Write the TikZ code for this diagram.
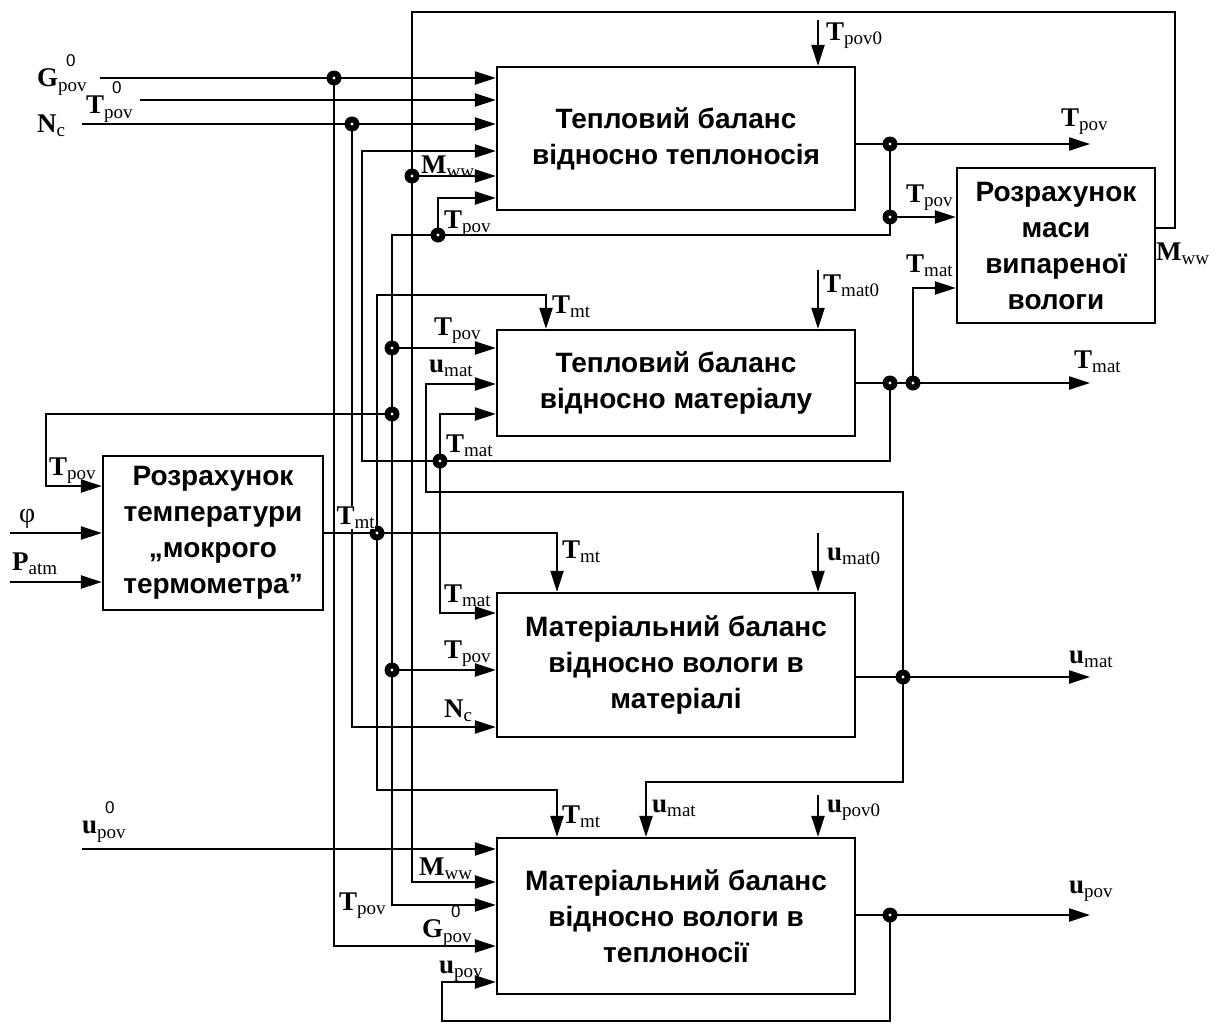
\documentclass[tikz,border=0pt]{standalone}
\usepackage{fontspec}
\setmainfont{Liberation Serif}
\newfontfamily\boxfont{Liberation Sans}
\usetikzlibrary{arrows.meta,calc}
\newcommand{\Lb}[2]{{\fontsize{27}{27}\selectfont\bfseries #1}\raisebox{-4pt}{\fontsize{19}{19}\selectfont #2}}
\newcommand{\Lz}[2]{{\fontsize{27}{27}\selectfont\bfseries #1}\makebox[0pt][l]{\hspace{8pt}\raisebox{20pt}{\boxfont\fontsize{17}{17}\selectfont 0}}\raisebox{-5pt}{\fontsize{19}{19}\selectfont #2}}
\tikzset{
  box/.style={draw, line width=2.3pt, inner sep=0pt, align=center,
    font=\boxfont\bfseries\fontsize{28}{36}\selectfont},
  arr/.style={line width=2.3pt, -{Triangle[length=21pt,width=13pt]}},
  lab/.style={inner sep=0pt, anchor=base west},
  dot/.style={circle, fill=black, inner sep=0pt, minimum size=15pt,
    path picture={\fill[white] (path picture bounding box.center) circle (1.6pt);}}
}
\begin{document}
\begin{tikzpicture}[x=1pt,y=-1pt]
\useasboundingbox (0,0) rectangle (1220,1023);
% boxes
\node[box, minimum width=358pt, minimum height=143pt] (b1) at (676,138.5) {Тепловий баланс\\відносно теплоносія};
\node[box, minimum width=198pt, minimum height=155pt] (b2) at (1056,245.5) {Розрахунок\\маси\\випареної\\вологи};
\node[box, minimum width=358pt, minimum height=106pt] (b3) at (676,383) {Тепловий баланс\\відносно матеріалу};
\node[box, minimum width=220pt, minimum height=154pt] (bw) at (213,533) {Розрахунок\\температури\\„мокрого\\термометра”};
\node[box, minimum width=358pt, minimum height=144pt] (b4) at (676,665) {Матеріальний баланс\\відносно вологи в\\матеріалі};
\node[box, minimum width=358pt, minimum height=156pt] (b5) at (676,916) {Матеріальний баланс\\відносно вологи в\\теплоносії};

% coordinates
\coordinate (gS) at (100,78);  \coordinate (gD) at (334,78);  \coordinate (gB) at (334,946);
\coordinate (tS) at (140,100);
\coordinate (nS) at (82,124);  \coordinate (nD) at (352,124); \coordinate (nB) at (352,727);
\coordinate (tmD1) at (890,383); \coordinate (tmD2) at (913,383); \coordinate (tmE) at (1090,383);
\coordinate (tmC1) at (890,461); \coordinate (tmC2) at (362,461); \coordinate (tmC3) at (362,151);
\coordinate (tmD3) at (440,461); \coordinate (tmC4) at (440,414); \coordinate (tmC5) at (440,613);
\coordinate (tmC6) at (913,288);
\coordinate (mC1) at (1175,228); \coordinate (mC2) at (1175,12); \coordinate (mC3) at (412,12); \coordinate (mC4) at (412,882);
\coordinate (mD) at (412,176);
\coordinate (tpD1) at (890,144); \coordinate (tpE) at (1090,144); \coordinate (tpD2) at (890,217);
\coordinate (tpC1) at (890,235); \coordinate (tpC2) at (392,235); \coordinate (tpC3) at (392,905);
\coordinate (tpD3) at (438,235); \coordinate (tpC4) at (438,198);
\coordinate (tpD4) at (392,348); \coordinate (tpD5) at (392,414); \coordinate (tpD6) at (392,670);
\coordinate (tpC5) at (46,414); \coordinate (tpC6) at (46,486);
\coordinate (tD) at (377,533); \coordinate (tC1) at (557,533);
\coordinate (tC2) at (377,295); \coordinate (tC3) at (546,295);
\coordinate (tC4) at (377,790); \coordinate (tC5) at (557,790);
\coordinate (uD) at (903,677); \coordinate (uE) at (1090,677);
\coordinate (uC1) at (903,492); \coordinate (uC2) at (426,492); \coordinate (uC3) at (426,384);
\coordinate (uC4) at (903,782); \coordinate (uC5) at (646,782);
\coordinate (upD) at (890,915); \coordinate (upE) at (1090,915);
\coordinate (upC1) at (890,1021); \coordinate (upC2) at (442,1021); \coordinate (upC3) at (442,982);
\coordinate (upS) at (82,849);
\coordinate (k1) at (818,20); \coordinate (k2) at (818,270); \coordinate (k3) at (818,533); \coordinate (k4) at (818,795);
\coordinate (fS) at (10,533); \coordinate (pS) at (10,582);

% connectors
\draw[arr] (gS) -- (gS -| b1.west);
\draw[arr] (gD) -- (gB) -- (gB -| b5.west);
\draw[arr] (tS) -- (tS -| b1.west);
\draw[arr] (nS) -- (nS -| b1.west);
\draw[arr] (nD) -- (nB) -- (nB -| b4.west);
\draw[arr] (b3.east) -- (tmE);
\draw[arr] (tmD1) -- (tmC1) -- (tmC2) -- (tmC3) -- (tmC3 -| b1.west);
\draw[arr] (tmD3) -- (tmC4) -- (tmC4 -| b3.west);
\draw[arr] (tmD3) -- (tmC5) -- (tmC5 -| b4.west);
\draw[arr] (tmD2) -- (tmC6) -- (tmC6 -| b2.west);
\draw[arr] (mC1 -| b2.east) -- (mC1) -- (mC2) -- (mC3) -- (mC4) -- (mC4 -| b5.west);
\draw[arr] (mD) -- (mD -| b1.west);
\draw[arr] (tpD1 -| b1.east) -- (tpE);
\draw[arr] (tpD1) -- (tpC1) -- (tpC2) -- (tpC3) -- (tpC3 -| b5.west);
\draw[arr] (tpD2) -- (tpD2 -| b2.west);
\draw[arr] (tpD3) -- (tpC4) -- (tpC4 -| b1.west);
\draw[arr] (tpD4) -- (tpD4 -| b3.west);
\draw[arr] (tpD5) -- (tpC5) -- (tpC6) -- (tpC6 -| bw.west);
\draw[arr] (tpD6) -- (tpD6 -| b4.west);
\draw[arr] (bw.east) -- (tC1) -- (tC1 |- b4.north);
\draw[arr] (tD) -- (tC2) -- (tC3) -- (tC3 |- b3.north);
\draw[arr] (tD) -- (tC4) -- (tC5) -- (tC5 |- b5.north);
\draw[arr] (uD -| b4.east) -- (uE);
\draw[arr] (uD) -- (uC1) -- (uC2) -- (uC3) -- (uC3 -| b3.west);
\draw[arr] (uD) -- (uC4) -- (uC5) -- (uC5 |- b5.north);
\draw[arr] (upD -| b5.east) -- (upE);
\draw[arr] (upD) -- (upC1) -- (upC2) -- (upC3) -- (upC3 -| b5.west);
\draw[arr] (upS) -- (upS -| b5.west);
\draw[arr] (k1) -- (k1 |- b1.north);
\draw[arr] (k2) -- (k2 |- b3.north);
\draw[arr] (k3) -- (k3 |- b4.north);
\draw[arr] (k4) -- (k4 |- b5.north);
\draw[arr] (fS) -- (fS -| bw.west);
\draw[arr] (pS) -- (pS -| bw.west);

% dots
\foreach \c in {gD,nD,tmD1,tmD2,tmD3,mD,tpD1,tpD2,tpD3,tpD4,tpD5,tpD6,tD,uD,upD}
  \node[dot] (dot-\c) at (\c) {};

% labels
\node[lab] (lG1) at (37,86) {\Lz{G}{pov}};
\node[lab] (lT1) at (86,113) {\Lz{T}{pov}};
\node[lab] (lN1) at (37,132) {\Lb{N}{c}};
\node[lab] (lM1) at (421,173) {\Lb{M}{ww}};
\node[lab] (lT2) at (444,228) {\Lb{T}{pov}};
\node[lab] (lT0) at (826,40) {\Lb{T}{pov0}};
\node[lab] (lT3) at (1061,126) {\Lb{T}{pov}};
\node[lab] (lT4) at (906,202) {\Lb{T}{pov}};
\node[lab] (lT5) at (906,272) {\Lb{T}{mat}};
\node[lab] (lM2) at (1156,260) {\Lb{M}{ww}};
\node[lab] (lt1) at (552,313) {\Lb{T}{mt}};
\node[lab] (lT6) at (823,292) {\Lb{T}{mat0}};
\node[lab] (lT7) at (434,335) {\Lb{T}{pov}};
\node[lab] (lu1) at (429,372) {\Lb{u}{mat}};
\node[lab] (lT8) at (446,452) {\Lb{T}{mat}};
\node[lab] (lT9) at (1074,368) {\Lb{T}{mat}};
\node[lab] (lT10) at (49,475) {\Lb{T}{pov}};
\node[lab] (lphi) at (19,522) {\fontsize{28}{28}\selectfont φ};
\node[lab] (lP) at (12,570) {\Lb{P}{atm}};
\node[lab, fill=white, inner sep=0.5pt] (lt2) at (336,524) {\Lb{T}{mt}};
\node[lab] (lt3) at (562,558) {\Lb{T}{mt}};
\node[lab] (lu2) at (827,560) {\Lb{u}{mat0}};
\node[lab] (lT11) at (444,602) {\Lb{T}{mat}};
\node[lab] (lT12) at (444,658) {\Lb{T}{pov}};
\node[lab] (lN2) at (444,717) {\Lb{N}{c}};
\node[lab] (lu3) at (1069,663) {\Lb{u}{mat}};
\node[lab] (lt4) at (562,823) {\Lb{T}{mt}};
\node[lab] (lu4) at (652,812) {\Lb{u}{mat}};
\node[lab] (lu5) at (827,812) {\Lb{u}{pov0}};
\node[lab] (lu6) at (1069,893) {\Lb{u}{pov}};
\node[lab] (lu7) at (82,833) {\Lz{u}{pov}};
\node[lab] (lM3) at (419,875) {\Lb{M}{ww}};
\node[lab] (lT13) at (339,910) {\Lb{T}{pov}};
\node[lab] (lG2) at (422,937) {\Lz{G}{pov}};
\node[lab] (lu8) at (439,973) {\Lb{u}{pov}};
\end{tikzpicture}
\end{document}
